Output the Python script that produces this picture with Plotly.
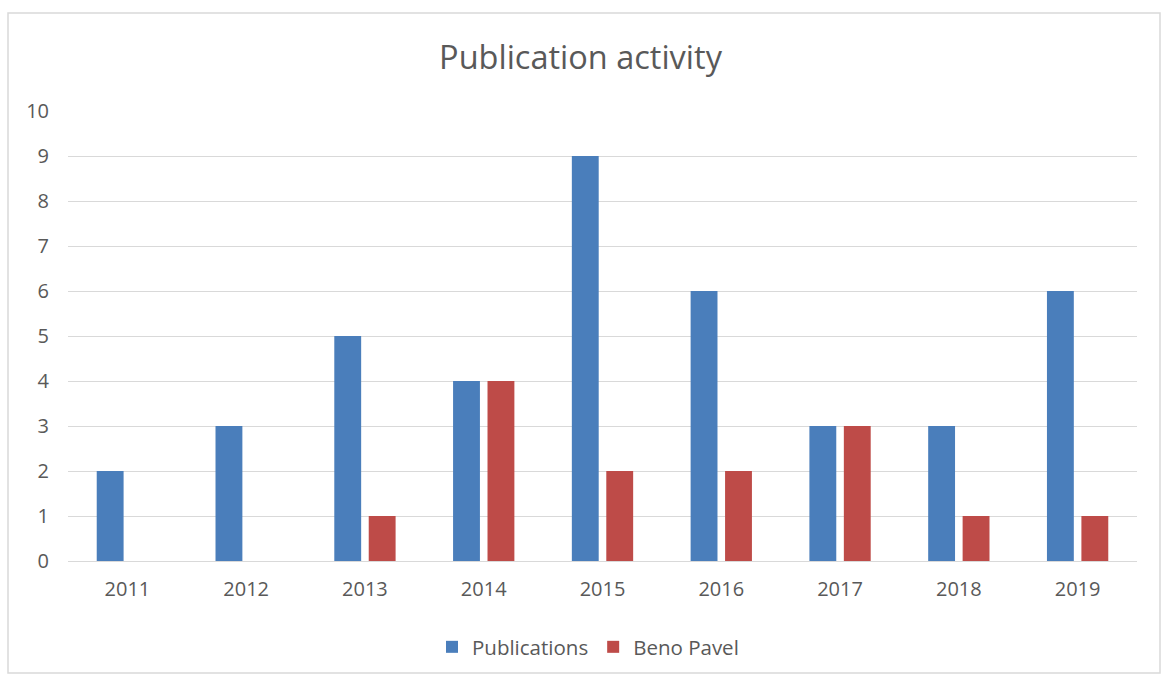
import plotly.graph_objects as go

years = ["2011", "2012", "2013", "2014", "2015", "2016", "2017", "2018", "2019"]
publications = [2, 3, 5, 4, 9, 6, 3, 3, 6]
beno_pavel = [0, 0, 1, 4, 2, 2, 3, 1, 1]
y_ticks = list(range(0, 11))

FONT = "Open Sans"
GREY = "#595959"

fig = go.Figure()
fig.add_trace(go.Bar(x=years, y=publications, name="Publications",
                     marker=dict(color="#4A7EBB", line=dict(width=0))))
fig.add_trace(go.Bar(x=years, y=beno_pavel, name="Beno Pavel",
                     marker=dict(color="#BE4B48", line=dict(width=0))))

L, R, T, B = 68, 24, 111, 123
W, H = 1161, 684
pw, ph = W - L - R, H - T - B

def px_x(p):
    return (p - L) / pw

def px_y(p):
    return (H - B - p) / ph

fig.update_layout(
    width=W, height=H,
    margin=dict(l=L, r=R, t=T, b=B),
    paper_bgcolor="white", plot_bgcolor="white",
    barmode="group", bargap=0.42, bargroupgap=0.22,
    title=dict(text="Publication activity", x=0.5, xanchor="center",
               y=1 - 58 / H, yanchor="middle",
               font=dict(family=FONT, size=32.5, color=GREY)),
    font=dict(family=FONT, color=GREY, size=20),
    showlegend=True,
    legend=dict(orientation="h", x=px_x(588), xanchor="center",
                y=px_y(647), yanchor="middle",
                font=dict(family=FONT, size=20.5, color=GREY),
                itemwidth=30, traceorder="normal"),
    xaxis=dict(showgrid=False, showline=True, linecolor="#d9d9d9", linewidth=1,
               ticks="", tickfont=dict(size=20, color=GREY), ticklabelstandoff=10),
    yaxis=dict(range=[0, 10], tickvals=y_ticks, showgrid=True, gridcolor="#d9d9d9",
               gridwidth=1, zeroline=False, showline=False, ticks="",
               tickfont=dict(size=20, color=GREY), ticklabelstandoff=18),
    shapes=[dict(type="rect", xref="paper", yref="paper",
                 x0=px_x(8), x1=px_x(1160), y0=px_y(673), y1=px_y(13),
                 line=dict(color="#d9d9d9", width=1.5), fillcolor="rgba(0,0,0,0)",
                 layer="below")],
)

fig.write_html("out.html")
